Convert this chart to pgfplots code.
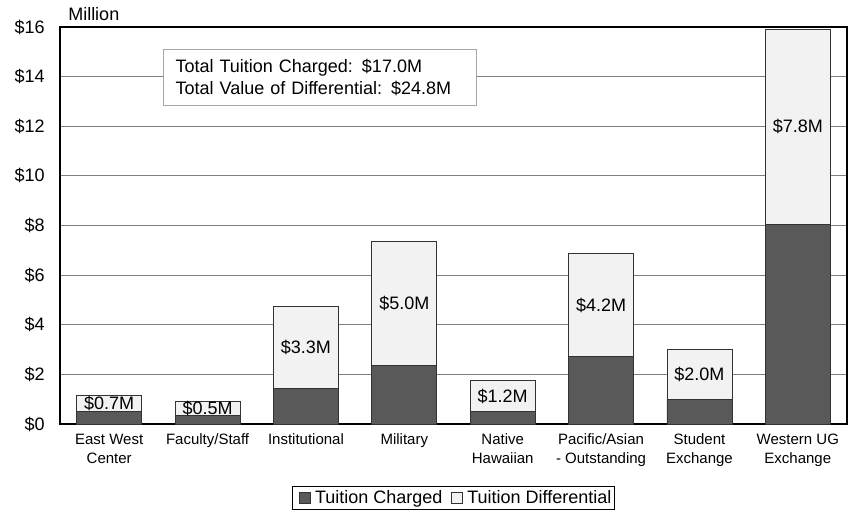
\documentclass[border=0pt]{standalone}
\usepackage{fontspec}
\setmainfont{Liberation Sans}
\usepackage{pgfplots}
\usepackage{pgfplotstable}
\pgfplotsset{compat=1.18}
\definecolor{dark}{HTML}{595959}
\definecolor{light}{HTML}{F2F2F2}
\definecolor{gridgray}{HTML}{808080}
\definecolor{boxgray}{HTML}{A6A6A6}

\pgfplotstableread{
x c d lab
0 0.50 0.67 0.7
1 0.35 0.58 0.5
2 1.42 3.33 3.3
3 2.35 5.02 5.0
4 0.50 1.25 1.2
5 2.71 4.17 4.2
6 0.98 2.02 2.0
7 8.05 7.85 7.8
}\data

\begin{document}
\begin{tikzpicture}
\begin{axis}[
  scale only axis, width=590.25pt, height=297.75pt,
  ybar stacked, bar width=0.66,
  xmin=-0.5, xmax=7.5, ymin=0, ymax=16,
  ytick={0,2,...,16},
  xtick={0,...,7},
  xticklabels={{East West\\Center},{Faculty/Staff},{Institutional},{Military},{Native\\Hawaiian},{Pacific/Asian\\- Outstanding},{Student\\Exchange},{Western UG\\Exchange}},
  xticklabel style={align=center, font=\fontsize{11.25}{14.25}\selectfont, yshift=-4pt},
  yticklabel={\$\pgfmathprintnumber{\tick}},
  yticklabel style={font=\fontsize{13.5}{16}\selectfont, xshift=-8pt},
  /pgf/number format/assume math mode=true,
  ymajorgrids, grid style={gridgray, line width=0.75pt},
  axis line style={black, line width=0.9pt},
  major tick length=0pt,
  legend style={at={(0.5,0)}, anchor=north, yshift=-46.5pt, legend columns=-1,
    draw=black, line width=0.6pt, font=\fontsize{13.5}{16}\selectfont,
    inner xsep=0.5pt, inner ysep=1pt,
    /tikz/every even column/.append style={column sep=0pt}},
  legend image code/.code={\path (0pt,0pt) (14pt,0pt); \draw[#1, line width=0.6pt] (4.5pt,-4pt) rectangle (12.5pt,4pt);},
  clip=false,
]
\addplot[fill=dark, draw=black!80, line width=0.6pt] table[x=x, y=c] {\data};
\addlegendentry{Tuition Charged}
\addplot[fill=light, draw=black!80, line width=0.6pt,
  point meta=explicit symbolic,
  nodes near coords={\$\pgfplotspointmeta M},
  every node near coord/.append style={anchor=center, font=\fontsize{13.5}{16}\selectfont, text=black}
] table[x=x, y=d, meta=lab] {\data};
\addlegendentry{Tuition Differential}
\node[anchor=base west, inner sep=0pt, font=\fontsize{13.5}{16}\selectfont] at ([shift={(6pt,4.7pt)}]rel axis cs:0,1) {Million};
\node[anchor=north west, draw=boxgray, fill=white, line width=0.75pt, text width=217pt, align=left,
  inner xsep=9pt, inner ysep=0pt, minimum height=42pt,
  font=\fontsize{13.5}{16.5}\selectfont] at (rel axis cs:0.131,0.945)
  {Total Tuition Charged: \$17.0M\\Total Value of Differential: \$24.8M};
\end{axis}
\pgfresetboundingbox
\path ([shift={(-45pt,-68.25pt)}]current axis.south west) rectangle ([shift={(0.75pt,20.25pt)}]current axis.north east);
\end{tikzpicture}
\end{document}
